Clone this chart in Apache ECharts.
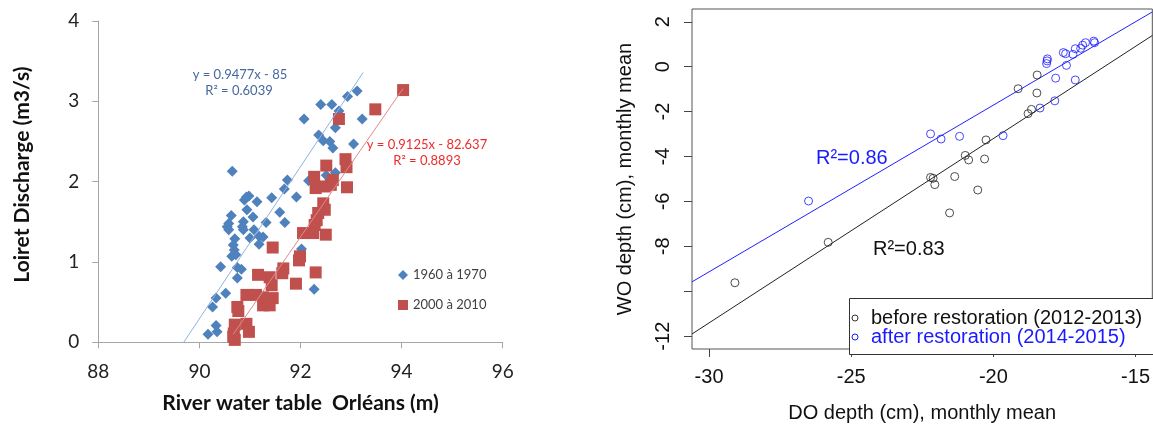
<!DOCTYPE html>
<html><head><meta charset="utf-8">
<script src="https://cdn.jsdelivr.net/npm/echarts@6/dist/echarts.min.js"></script>
<style>html,body{margin:0;padding:0;background:#fff;overflow:hidden}#c{width:1153px;height:428px}</style>
</head><body><div id="c"></div>
<script>
// ---------- Left panel data ----------
const xTicksLeft = [88, 90, 92, 94, 96];
const yTicksLeft = [0, 1, 2, 3, 4];
const blue6070 = [
  [90.65,2.13],[91.74,2.02],[91.68,1.91],[91.92,1.81],[91.43,1.80],[90.93,1.81],[90.98,1.82],
  [90.89,1.77],[91.14,1.75],[90.94,1.65],[91.59,1.62],[90.63,1.58],[91.06,1.56],[91.32,1.49],
  [91.69,1.49],[90.58,1.48],[90.55,1.44],[90.58,1.40],[90.87,1.50],[90.85,1.44],[90.87,1.40],
  [91.08,1.40],[91.00,1.30],[91.18,1.32],[91.26,1.31],[91.18,1.22],[90.70,1.29],[90.67,1.21],
  [90.69,1.15],[90.64,1.07],[90.72,1.09],[92.02,1.16],[90.42,0.94],[90.75,0.93],[90.83,0.91],
  [90.75,0.80],[90.52,0.61],[90.33,0.55],[90.26,0.44],[92.27,0.66],[90.33,0.21],[90.35,0.13],
  [90.17,0.10],[93.12,3.13],[92.93,3.06],[92.40,2.96],[92.62,2.96],[92.76,2.88],[92.07,2.78],
  [93.22,2.78],[92.69,2.67],[92.36,2.58],[92.45,2.51],[92.58,2.50],[92.64,2.42],[93.05,2.47],
  [92.69,2.11],[92.51,2.08],[92.16,2.01]
];
const red0010 = [
  [94.03,3.14],[93.48,2.90],[92.76,2.78],[92.89,2.28],[92.91,2.18],[92.92,1.93],[92.51,2.20],
  [92.27,2.06],[92.30,1.92],[92.48,1.94],[92.60,1.96],[92.64,2.02],[92.45,1.73],[92.48,1.65],
  [92.35,1.61],[92.32,1.52],[92.28,1.46],[92.05,1.36],[92.25,1.36],[92.50,1.34],[91.45,1.18],
  [91.99,1.07],[91.97,1.02],[91.66,0.92],[91.64,0.86],[92.30,0.87],[91.16,0.84],[91.39,0.81],
  [91.43,0.71],[91.91,0.73],[90.93,0.59],[91.12,0.59],[91.45,0.55],[91.39,0.46],[91.26,0.46],
  [90.75,0.44],[90.77,0.39],[90.70,0.22],[90.93,0.23],[90.98,0.13],[90.68,0.11],[90.70,0.03],
  [90.67,0.07],[91.26,0.56]
];
const trend6070 = [[89.69,0.00],[93.24,3.36]];
const trend0010 = [[90.67,0.10],[94.03,3.16]];

// ---------- Right panel data ----------
const xTicksRight = [-30, -25, -20, -15];
const yTicksRight = [2, 0, -2, -4, -6, -8, -10, -12];
const yLabelsRight = [2, 0, -2, -4, -6, -8, -12];
const before = [
  [-29.09,-9.62],[-25.81,-7.82],[-22.21,-4.93],[-22.12,-4.97],[-22.06,-5.25],[-21.36,-4.89],
  [-21.54,-6.51],[-20.55,-5.49],[-20.99,-3.95],[-20.87,-4.15],[-20.31,-4.11],[-20.26,-3.26],
  [-19.13,-0.98],[-18.78,-2.09],[-18.66,-1.90],[-18.46,-0.37],[-18.47,-1.17]
];
const after = [
  [-26.50,-5.98],[-22.21,-2.99],[-21.84,-3.22],[-21.19,-3.10],[-19.66,-3.07],[-18.36,-1.84],
  [-17.84,-1.52],[-17.81,-0.51],[-17.12,-0.59],[-17.43,0.06],[-18.10,0.35],[-18.11,0.26],
  [-18.13,0.14],[-17.54,0.63],[-17.46,0.58],[-17.20,0.55],[-17.12,0.80],[-16.93,0.82],
  [-16.86,0.96],[-16.76,1.07],[-16.47,1.14],[-16.44,1.07]
];
const fitBefore = [[-30.6,-11.90],[-14.41,1.39]];
const fitAfter = [[-30.6,-9.58],[-14.41,2.44]];

const LF = 'Lato';
const RF = 'Liberation Sans';
const leftAxisCol = '#a6a6a6';

const chart = echarts.init(document.getElementById('c'), null, {renderer:'canvas'});
chart.setOption({
  backgroundColor:'#fff',
  animation:false,
  grid:[
    {left:98.3, top:21, width:404.4, height:321.3},
    {left:692, top:9, right:-2, bottom:74, show:true, borderColor:'#555', borderWidth:1}
  ],
  xAxis:[
    {gridIndex:0, type:'value', min:88, max:96, interval:2,
     axisLine:{show:true, onZero:false, lineStyle:{color:leftAxisCol, width:1}},
     axisTick:{show:true, length:6, lineStyle:{color:leftAxisCol}},
     axisLabel:{fontFamily:LF, fontSize:19, color:'#222', margin:20},
     splitLine:{show:false},
     name:'River water table  Orléans (m)', nameLocation:'middle', nameGap:50,
     nameTextStyle:{fontFamily:LF, fontWeight:'bold', fontSize:21, color:'#111'}},
    {gridIndex:1, type:'value', position:'bottom', min:-30.6, max:-14.41,
     axisLine:{show:false, onZero:false},
     axisTick:{show:true, length:8, customValues:xTicksRight, lineStyle:{color:'#444'}},
     axisLabel:{fontFamily:RF, fontSize:20, color:'#111', margin:18, customValues:xTicksRight},
     splitLine:{show:false},
     name:'DO depth (cm), monthly mean', nameLocation:'middle', nameGap:54,
     nameTextStyle:{fontFamily:RF, fontSize:20, color:'#111'}}
  ],
  yAxis:[
    {gridIndex:0, type:'value', min:0, max:4, interval:1,
     axisLine:{show:true, onZero:false, lineStyle:{color:leftAxisCol, width:1}},
     axisTick:{show:true, length:6, lineStyle:{color:leftAxisCol}},
     axisLabel:{fontFamily:LF, fontSize:19, color:'#222', margin:19},
     splitLine:{show:false},
     name:'Loiret Discharge (m3/s)', nameLocation:'middle', nameGap:66,
     nameTextStyle:{fontFamily:LF, fontWeight:'bold', fontSize:21, color:'#111', padding:[0,0,0,14]}},
    {gridIndex:1, type:'value', position:'left', min:-12.57, max:2.57,
     axisLine:{show:false, onZero:false},
     axisTick:{show:true, length:8, customValues:yTicksRight, lineStyle:{color:'#444'}},
     axisLabel:{fontFamily:RF, fontSize:20, color:'#111', margin:19, rotate:90, customValues:yLabelsRight},
     splitLine:{show:false},
     name:'WO depth (cm), monthly mean', nameLocation:'middle', nameGap:57,
     nameTextStyle:{fontFamily:RF, fontSize:20, color:'#111'}}
  ],
  legend:{
    data:[{name:'1960 à 1970', icon:'diamond'},{name:'2000 à 2010', icon:'rect'}],
    orient:'vertical', left:398, top:268.5, itemWidth:10, itemHeight:10, itemGap:17,
    padding:0,
    textStyle:{fontFamily:LF, fontSize:13, color:'#404040'}
  },
  series:[
    {name:'1960 à 1970', type:'scatter', xAxisIndex:0, yAxisIndex:0, data:blue6070,
     symbol:'diamond', symbolSize:11, itemStyle:{color:'#4F81BD', opacity:1}, z:2},
    {name:'2000 à 2010', type:'scatter', xAxisIndex:0, yAxisIndex:0, data:red0010,
     symbol:'rect', symbolSize:12, itemStyle:{color:'#C0504D', opacity:1}, z:3},
    {name:'trend 1960', type:'line', xAxisIndex:0, yAxisIndex:0, data:trend6070, symbol:'none',
     lineStyle:{color:'#8fb2df', width:1}, z:4, silent:true},
    {name:'trend 2000', type:'line', xAxisIndex:0, yAxisIndex:0, data:trend0010, symbol:'none',
     lineStyle:{color:'#e08a88', width:1}, z:4, silent:true},
    {name:'before restoration (2012-2013)', type:'scatter', xAxisIndex:1, yAxisIndex:1, data:before,
     symbol:'circle', symbolSize:8, itemStyle:{color:'rgba(0,0,0,0)', borderColor:'#222', borderWidth:1}, z:3},
    {name:'after restoration (2014-2015)', type:'scatter', xAxisIndex:1, yAxisIndex:1, data:after,
     symbol:'circle', symbolSize:8, itemStyle:{color:'rgba(0,0,0,0)', borderColor:'#1a1aff', borderWidth:1}, z:3},
    {name:'fit before', type:'line', xAxisIndex:1, yAxisIndex:1, data:fitBefore, symbol:'none',
     lineStyle:{color:'#222', width:1}, z:2, silent:true},
    {name:'fit after', type:'line', xAxisIndex:1, yAxisIndex:1, data:fitAfter, symbol:'none',
     lineStyle:{color:'#2020ff', width:1}, z:2, silent:true}
  ],
  graphic:[
    {type:'text', z:100, x:240, y:75, style:{text:'y = 0.9477x - 85', fontFamily:LF, fontSize:13, fill:'#45689e', textAlign:'center', textVerticalAlign:'middle'}},
    {type:'text', z:100, x:239, y:91, style:{text:'R² = 0.6039', fontFamily:LF, fontSize:13, fill:'#45689e', textAlign:'center', textVerticalAlign:'middle'}},
    {type:'text', z:100, x:427, y:145, style:{text:'y = 0.9125x - 82.637', fontFamily:LF, fontSize:13, fill:'#f02a2a', textAlign:'center', textVerticalAlign:'middle'}},
    {type:'text', z:100, x:427, y:161, style:{text:'R² = 0.8893', fontFamily:LF, fontSize:13, fill:'#f02a2a', textAlign:'center', textVerticalAlign:'middle'}},
    {type:'text', z:100, x:816, y:158, style:{text:'R²=0.86', fontFamily:RF, fontSize:20, fill:'#1a1aff', textAlign:'left', textVerticalAlign:'middle'}},
    {type:'text', z:100, x:873, y:249, style:{text:'R²=0.83', fontFamily:RF, fontSize:20, fill:'#111', textAlign:'left', textVerticalAlign:'middle'}},
    {type:'rect', z:100, shape:{x:849.5, y:298.5, width:330, height:56}, style:{fill:'#fff', stroke:'#333', lineWidth:1}},
    {type:'circle', z:101, shape:{cx:855, cy:318, r:3}, style:{fill:'none', stroke:'#333', lineWidth:1}},
    {type:'circle', z:101, shape:{cx:855, cy:337, r:3}, style:{fill:'none', stroke:'#1a1aff', lineWidth:1}},
    {type:'text', z:101, x:871, y:318, style:{text:'before restoration (2012-2013)', fontFamily:RF, fontSize:20, fill:'#111', textAlign:'left', textVerticalAlign:'middle'}},
    {type:'text', z:101, x:871, y:337, style:{text:'after restoration (2014-2015)', fontFamily:RF, fontSize:20, fill:'#1a1aff', textAlign:'left', textVerticalAlign:'middle'}}
  ]
});
</script></body></html>
